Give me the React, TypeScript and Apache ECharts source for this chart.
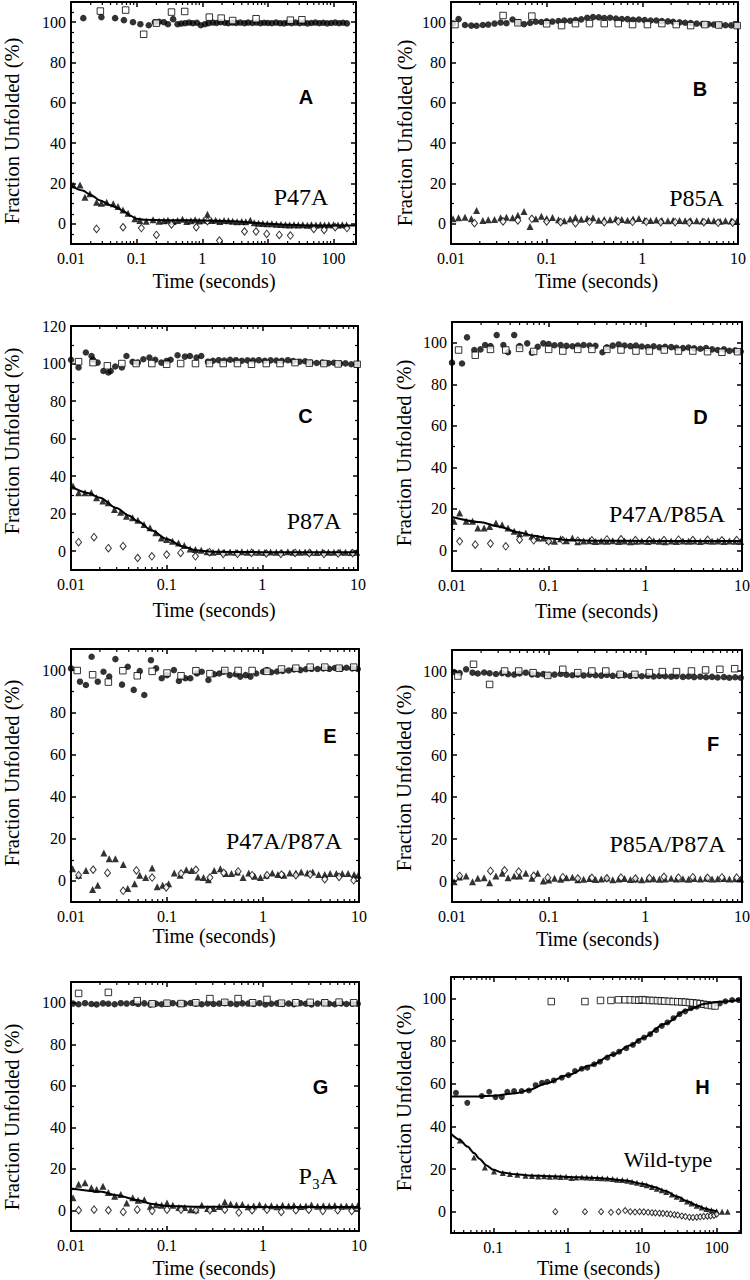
import React, { useEffect, useRef } from "react";
import * as echarts from "echarts";

const SERIF = '"Liberation Serif", "Times New Roman", serif';
const SANS = '"Liberation Sans", Arial, sans-serif';

// shared dense time grid (seconds) used by many panels
const xsDense = [
  0.0105, 0.012, 0.014, 0.0163, 0.0185, 0.0215, 0.0245, 0.0285, 0.033, 0.038,
  0.044, 0.05, 0.058, 0.067, 0.077, 0.088, 0.1, 0.115, 0.133, 0.153,
  0.176, 0.2, 0.23, 0.265, 0.305, 0.35, 0.4, 0.46, 0.53, 0.61,
  0.7, 0.8, 0.92, 1.06, 1.22, 1.4, 1.6, 1.85, 2.1, 2.45,
  2.8, 3.2, 3.7, 4.25, 4.9, 5.6, 6.5, 7.4, 8.5, 9.7,
];

// ---------- Panel A: P47A ----------
const aCircles = [
  [0.0154, 102], [0.029, 102.5], [0.047, 102], [0.064, 101], [0.088, 100], [0.114, 99], [0.153, 98.5], [0.19, 100],
  [0.22, 100.2], [0.26, 100], [0.3, 99], [0.36, 101.5], [0.42, 99], [0.48, 99.3], [0.55, 99.5], [0.63, 99.8],
  [0.72, 99.5], [0.83, 99.7], [0.95, 98.5], [1.1, 99], [1.25, 99.5], [1.45, 99.8], [1.65, 99.6], [1.9, 100],
  [2.2, 99.7], [2.5, 99.5], [2.9, 99.8], [3.3, 99.6], [3.8, 99.8], [4.4, 99.5], [5, 99.8], [5.8, 99.6],
  [6.7, 99.8], [7.7, 99.5], [8.8, 99.7], [10, 99.6], [11.5, 99.5], [13.3, 99.8], [15.3, 99.5], [17.6, 99.4],
  [20, 99.7], [23, 99.5], [26.5, 99.8], [30.5, 99.5], [35, 99.7], [40, 99.4], [46, 99.6], [53, 99.8],
  [61, 99.5], [70, 99.7], [80, 99.4], [92, 99.6], [106, 99.8], [122, 99.5], [140, 99.7], [160, 99.4],
];
const aSquares = [
  [0.028, 105.5], [0.068, 106], [0.128, 94], [0.2, 99.5], [0.34, 105], [0.54, 105.3],
  [1.28, 102.5], [1.94, 102], [2.9, 100.8], [6.6, 101.7], [22, 101], [33, 101.2],
];
const aTriangles = [
  [0.0108, 19.3], [0.0137, 19.3], [0.0163, 13.2], [0.0194, 14.9], [0.0245, 10.7], [0.029, 10.2], [0.035, 10.7],
  [0.044, 9.9], [0.052, 8.6], [0.062, 6.9], [0.074, 5.3], [0.094, 2.5], [0.112, 1.7], [0.14, 1.3], [0.178, 2],
  [0.22, 1.3], [0.26, 1.5], [0.3, 1.8], [0.36, 1.2], [0.42, 1.6], [0.5, 2.3], [0.58, 1.2], [0.67, 1.5],
  [0.78, 2], [0.9, 1.4], [1.05, 1.8], [1.2, 4.8], [1.38, 1.6], [1.6, 1.8], [1.85, 1.2], [2.15, 1.6],
  [2.5, 1.5], [2.9, 1.3], [3.4, 1.0], [4, 1.2], [4.6, 1.0], [5.4, 1.8], [6.2, 0.5], [7.2, 0.3], [8.4, 0.2],
  [9.8, 0], [11.5, 0], [13.5, -0.2], [15.8, -0.3], [18.5, -0.5], [21.5, -0.6], [25, -0.5], [29, -0.6],
  [34, -0.5], [40, -0.7], [46, -0.5], [54, -0.6], [63, -0.5], [73, -0.6], [85, -0.5], [100, -0.5],
  [117, -0.6], [136, -0.5], [158, -0.6],
];
const aDiamonds = [
  [0.0245, -2.5], [0.062, -1.7], [0.118, -2.1], [0.2, -5.5], [0.34, -0.3], [0.81, -1.7], [1.2, 1.3],
  [1.83, -8.3], [4.4, -3.8], [6.6, -3.8], [9.6, -5], [14.9, -5.5], [22, -5.8], [50, -2.5], [72, -3],
  [106, -1.7], [160, -2.1],
];
const aFit = [
  [0.01, 19], [0.015, 16.5], [0.02, 14.3], [0.028, 11.6], [0.04, 9.2], [0.05, 8], [0.065, 6], [0.08, 4],
  [0.1, 2.5], [0.13, 2], [0.3, 1.8], [1, 1.7], [3, 1.3], [6, 0.5], [10, 0], [20, -0.5], [50, -0.8], [220, -0.8],
];

// ---------- Panel B: P85A ----------
const bCirclesY = [
  99.3, 101.5, 98.6, 98.3, 98.2, 98.6, 98.8, 99.3, 99.8, 99.5,
  101.3, 100, 99, 99.6, 100.2, 100.1, 100.4, 100.3, 100.6, 100.8,
  100.7, 101, 101.4, 102.2, 102.5, 102.4, 102, 102.2, 101.8, 101.6,
  101.5, 101.2, 101.3, 101, 100.8, 100.8, 100.5, 100.4, 100.2, 99.9,
  99.7, 99.6, 99.3, 99.1, 99, 98.8, 98.6, 98.5, 98.4, 98.5,
];
const bSquares = [
  [0.011, 98.8], [0.035, 103.3], [0.05, 99.7], [0.07, 103], [0.1, 99.2], [0.143, 98.3], [0.2, 99.3],
  [0.28, 99.3], [0.4, 99.3], [0.56, 99.3], [0.79, 98.8], [1.13, 98.8], [1.6, 99.3], [2.26, 98.8],
  [3.2, 98.3], [4.5, 98.8], [6.3, 98.6], [9.8, 98.3],
];
const bTrianglesY = [
  2.5, 3, 3.3, 2.5, 6.6, 1.7, 2, 2.2, 3, 3.3,
  3, 4.2, 6.1, -1.3, 2.5, 3.7, 2.7, 3.2, 2, 1.5,
  2.4, 3.2, 2.3, 2.6, 3, 1.8, 2.2, 2, 2.5, 2.1,
  1.8, 2.4, 2.6, 1.8, 1.6, 1.9, 1.7, 1.5, 1.8, 1.6,
  1.5, 1.7, 1.5, 1.4, 1.6, 1.5, 1.3, 1.5, 1.4, 1.2,
];
const bDiamonds = [
  [0.0176, 0.3], [0.035, 1.2], [0.05, 1.7], [0.07, 2.5], [0.1, 1.2], [0.14, 0.8], [0.2, 0.3], [0.28, 1],
  [0.4, 0.8], [0.56, 1.2], [0.79, 1], [1.1, 1], [1.56, 0.8], [2.2, 0.8], [3.1, 0.6], [4.4, 0.8],
  [6.2, 0.5], [8.8, 0.6],
];

// ---------- Panel C: P87A ----------
const cCircles = [
  [0.01, 102], [0.012, 97.9], [0.0143, 105.9], [0.0164, 104], [0.017, 102], [0.019, 100.5], [0.0218, 96],
  [0.0246, 95.2], [0.026, 96], [0.029, 98.4], [0.034, 97.9], [0.038, 104], [0.044, 100.9], [0.05, 100.5],
  [0.057, 102.3], [0.066, 103.2], [0.076, 102], [0.088, 100.5], [0.1, 101.4], [0.11, 102], [0.13, 104.4],
  [0.155, 103.7], [0.175, 104], [0.205, 103.2], [0.23, 104], [0.27, 101], [0.305, 101.5], [0.35, 101.8],
  [0.4, 101.6], [0.46, 102], [0.53, 101.8], [0.61, 101.5], [0.7, 101.7], [0.8, 101.6], [0.92, 101.8],
  [1.06, 101.5], [1.22, 101.7], [1.4, 101.6], [1.6, 101.5], [1.85, 101.8], [2.1, 101.3], [2.45, 101],
  [2.8, 101.2], [3.2, 100.5], [3.7, 100.3], [4.25, 100.5], [4.9, 100.2], [5.6, 100.4], [6.5, 100],
  [7.4, 100.1], [8.5, 99.6], [9.7, 99.4],
];
const cSquares = [
  [0.012, 101], [0.017, 100.5], [0.024, 98.8], [0.034, 100], [0.048, 100], [0.07, 100], [0.1, 99.6],
  [0.14, 100], [0.2, 100], [0.28, 100], [0.39, 100], [0.55, 100], [0.77, 99.6], [1.1, 100], [1.53, 100],
  [2.2, 100.5], [3.1, 100.2], [4.4, 100], [6.2, 99.8], [9.8, 99.6],
];
const cTrianglesY = [
  34.7, 31.1, 31.1, 31.1, 28.5, 26.7, 25.8, 22.2, 20.8, 18.7,
  17.8, 16.5, 14.2, 12.5, 9.8, 7.1, 6.2, 5.3, 4.4, 3,
  1.2, 0.9, 0.5, -0.3, -0.5, -0.2, -0.6, -0.4, -0.5, -0.3,
  -0.6, -0.4, -0.5, -0.7, -0.4, -0.5, -0.6, -0.3, -0.5, -0.6,
  -0.4, -0.5, -0.7, -0.4, -0.5, -0.6, -0.4, -0.5, -0.7, -0.5,
];
const cDiamonds = [
  [0.012, 4.8], [0.0174, 7.5], [0.0246, 1.6], [0.035, 2.7], [0.0497, -3.6], [0.07, -2.7], [0.1, -1.8],
  [0.14, -0.9], [0.2, -2.7], [0.28, -0.5], [0.39, -1.4], [0.55, -1.4], [0.77, -0.9], [1.1, -1.2],
  [1.56, -1.4], [2.2, -0.9], [3.1, -1], [4.4, -1.4], [6.2, -1.2], [8.8, -1],
];
const cFit = [
  [0.01, 34.5], [0.015, 31], [0.02, 28.5], [0.03, 23], [0.04, 19], [0.05, 16], [0.07, 11], [0.1, 6.5],
  [0.15, 2.5], [0.2, 0.5], [0.3, -0.3], [1, -0.5], [10, -0.5],
];

// ---------- Panel D: P47A/P85A ----------
const dCircles = [
  [0.01, 90.4], [0.0127, 90], [0.0143, 102.6], [0.017, 96.5], [0.0197, 96.8], [0.022, 98.9], [0.025, 98.4],
  [0.029, 103.7], [0.034, 98.9], [0.038, 95.4], [0.044, 103.7], [0.05, 98.4], [0.06, 99.7], [0.067, 95.2],
  [0.077, 98.1], [0.088, 99.7], [0.1, 99.4], [0.115, 98.8], [0.133, 98.9], [0.153, 98.5], [0.176, 98.3],
  [0.2, 98.6], [0.23, 98.9], [0.265, 98.7], [0.305, 98.5], [0.36, 95.4], [0.4, 97.8], [0.46, 98.6],
  [0.53, 99.2], [0.61, 98.7], [0.7, 98.4], [0.8, 98.6], [0.92, 98.2], [1.06, 97.9], [1.22, 98.3],
  [1.4, 97.8], [1.6, 98.1], [1.85, 97.9], [2.1, 97.6], [2.45, 97.4], [2.8, 97.7], [3.2, 97.3], [3.7, 97.1],
  [4.25, 97.4], [4.9, 96.8], [5.6, 96.5], [6.5, 96.8], [7.4, 96.1], [8.5, 96.3], [9.7, 95.8],
];
const dSquares = [
  [0.0117, 96.5], [0.0174, 94], [0.025, 96.8], [0.036, 96.5], [0.05, 97.3], [0.07, 95.8], [0.1, 96.8],
  [0.14, 96], [0.2, 96.8], [0.28, 96.8], [0.4, 96.8], [0.56, 96.5], [0.8, 96], [1.1, 96], [1.57, 96.5],
  [2.2, 96], [3.1, 96], [4.4, 95.7], [6.2, 95.4], [9, 95.7],
];
const dTrianglesY = [
  14, 18, 14, 14, 10.7, 10.7, 11.5, 13.1, 12.3, 10.7,
  9.1, 7.9, 8.3, 6.7, 5.9, 5.9, 4.8, 4.3, 5.5, 4.6,
  5.9, 4.1, 4.4, 4.6, 4.2, 4.5, 4.3, 4.6, 4.2, 4.4,
  4.1, 4.3, 4.5, 4.2, 4.6, 4.3, 4.1, 4.4, 4.2, 4.5,
  4.3, 4.4, 4.2, 4.6, 4.3, 4.5, 4.2, 4.4, 4.3, 4.2,
];
const dDiamonds = [
  [0.012, 4.3], [0.0174, 2.7], [0.025, 3.2], [0.036, 1.9], [0.05, 5.1], [0.07, 4.8], [0.1, 4.3], [0.14, 4.8],
  [0.2, 4.6], [0.28, 4.8], [0.4, 5.2], [0.56, 5.3], [0.79, 4.9], [1.1, 4.8], [1.56, 4.9], [2.2, 5.1],
  [3.1, 4.9], [4.4, 5], [6.2, 4.8], [8.8, 4.9],
];
const dFit = [
  [0.01, 16], [0.02, 13.5], [0.03, 11.5], [0.05, 8.5], [0.07, 7], [0.1, 5.8], [0.15, 5], [0.3, 4.6],
  [1, 4.5], [10, 4.4],
];

// ---------- Panel E: P47A/P87A ----------
const eCircles = [
  [0.01, 100.8], [0.0124, 94.5], [0.0143, 92.9], [0.0164, 106.3], [0.019, 94.5], [0.0218, 99.2], [0.025, 96.9],
  [0.029, 105.2], [0.034, 93.1], [0.039, 101.6], [0.045, 90.6], [0.052, 99.5], [0.058, 88.2], [0.068, 104.7],
  [0.077, 100.8], [0.088, 96.1], [0.1, 97.6], [0.118, 100], [0.133, 94.8], [0.155, 96.1], [0.175, 96.1],
  [0.205, 98.4], [0.23, 99.2], [0.27, 95.3], [0.31, 98], [0.35, 98.4], [0.39, 99.2], [0.45, 97.6], [0.52, 98],
  [0.58, 96.9], [0.66, 97.6], [0.74, 96.9], [0.85, 98.4], [1, 99.2], [1.1, 100], [1.22, 99], [1.4, 99.3],
  [1.6, 99.6], [1.85, 99.8], [2.1, 100.3], [2.45, 100], [2.8, 100.4], [3.2, 100.6], [3.7, 100.5],
  [4.25, 100.8], [4.9, 100.6], [5.6, 101], [6.5, 100.7], [7.4, 101.1], [8.5, 100.8], [9.7, 100.5],
];
const eSquares = [
  [0.0116, 99.8], [0.0168, 97.8], [0.0245, 94.3], [0.0347, 99.7], [0.049, 97.3], [0.07, 99.4], [0.1, 98.6],
  [0.14, 97.3], [0.2, 99.7], [0.28, 98.3], [0.4, 99.8], [0.55, 99.8], [0.77, 99.8], [1.1, 99.4],
  [1.56, 100.5], [2.2, 100.9], [3.1, 101.4], [4.4, 101.4], [6.2, 100.9], [8.8, 101.4],
];
const eTriangles = [
  [0.0104, 5.8], [0.012, 2.7], [0.0143, 5], [0.0168, -4.1], [0.019, -2], [0.022, 13.2], [0.025, 10.5],
  [0.029, 10.5], [0.035, 7.8], [0.039, -3.6], [0.046, -1.3], [0.052, 2.7], [0.06, 1.6], [0.07, 6.1],
  [0.079, -2.8], [0.09, -2], [0.104, -1.3], [0.119, 3.8], [0.137, 2.7], [0.159, 5.3], [0.18, 5], [0.21, 1.9],
  [0.24, 1.6], [0.27, 0.6], [0.31, 5], [0.36, 5.8], [0.41, 3.5], [0.47, 3.5], [0.54, 4.2], [0.62, 1.6],
  [0.71, 3.8], [0.82, 2.2], [0.94, 1.6], [1.08, 2.7], [1.25, 3.8], [1.43, 3.1], [1.65, 2.7], [1.9, 3.8],
  [2.2, 3.8], [2.5, 4.2], [2.9, 3.8], [3.3, 4.2], [3.8, 3.1], [4.4, 3.1], [5, 3.5], [5.8, 3.5], [6.7, 3.5],
  [7.7, 3.5], [8.9, 3], [9.8, 2.7],
];
const eDiamonds = [
  [0.012, 2.7], [0.017, 5.3], [0.024, 3.8], [0.035, -4.7], [0.048, 5], [0.07, 1.6], [0.098, -3.1], [0.14, 3.5],
  [0.2, 5.3], [0.28, 1.6], [0.39, 3.8], [0.55, 4.5], [0.77, 2.7], [1.1, 2.7], [1.56, 3], [2.2, 2.7],
  [3.1, 3.1], [4.4, 0.8], [6.2, 1.9], [8.8, 0.3],
];

// ---------- Panel F: P85A/P87A ----------
const fCirclesY = [
  99.5, 99, 100.8, 99.2, 98.8, 99.3, 98.9, 98.6, 99, 98.5,
  98.3, 98.8, 99.2, 98.4, 98.2, 98.5, 98.1, 98.3, 98.6, 98.2,
  98, 98.3, 97.9, 98.2, 98, 97.8, 98.1, 97.7, 97.9, 98,
  97.6, 97.8, 97.5, 97.7, 97.4, 97.6, 97.5, 97.3, 97.5, 97.2,
  97.4, 97.1, 97.3, 97, 97.2, 96.9, 97.1, 96.8, 97, 96.8,
];
const fSquares = [
  [0.0115, 97.6], [0.0167, 103.2], [0.0245, 93.6], [0.035, 100], [0.049, 100], [0.069, 99.2], [0.098, 97.9],
  [0.14, 100.8], [0.2, 99.2], [0.28, 100], [0.39, 100], [0.55, 98.4], [0.78, 98.4], [1.1, 99.2], [1.5, 99.7],
  [2.1, 99.7], [3, 100], [4.2, 100.5], [5.9, 100.8], [8.4, 101.1],
];
const fTrianglesY = [
  -0.3, 1.9, 2.4, -0.3, 1.3, 1.6, -0.8, 2.4, 3.7, 1.6,
  2.4, 2.4, 3.7, 1.3, 3.7, 0, 0.5, 1.3, 0.8, 1.5,
  1.8, 0.6, 0.8, 1.2, 0.7, 0.9, 1.4, 0.6, 0.9, 1.2,
  0.7, 1, 0.6, 0.9, 1.1, 0.8, 1, 1.3, 0.9, 1.1,
  0.8, 1.2, 1, 1.3, 0.9, 1.1, 1.2, 0.9, 1.1, 1,
];
const fDiamonds = [
  [0.012, 2.4], [0.025, 4.8], [0.035, 5.1], [0.049, 4.5], [0.07, 2.5], [0.098, 1.6], [0.14, 1.8], [0.2, 1.2],
  [0.28, 1.5], [0.4, 1.3], [0.56, 1.6], [0.79, 1.2], [1.1, 1.4], [1.56, 2], [2.2, 1.6], [3.1, 1.8],
  [4.4, 1.5], [6.2, 1.7], [8.8, 1.6],
];

// ---------- Panel G: P3A ----------
const gCirclesY = [
  99.6, 99.3, 99.8, 99.4, 99.2, 99.7, 99.5, 99.3, 99.8, 99.6,
  99.9, 99.4, 99.7, 99.2, 99.5, 99.3, 99.7, 99.8, 99.4, 99.6,
  99.9, 99.5, 99.3, 99.7, 99.4, 99.6, 99.8, 99.5, 99.3, 99.7,
  99.6, 99.4, 99.8, 99.2, 99.5, 99.7, 99.4, 99.6, 99.3, 99.8,
  99.5, 99.2, 99.6, 99.9, 99.5, 99.3, 99.7, 99.4, 99.6, 99.5,
];
const gSquares = [
  [0.012, 104.5], [0.0245, 105], [0.049, 101], [0.07, 99.5], [0.1, 99.8], [0.14, 99.6], [0.2, 100],
  [0.28, 102], [0.4, 100.2], [0.55, 102], [0.78, 100], [1.1, 101.6], [1.56, 99.8], [2.2, 100],
  [3.1, 100.2], [4.4, 100], [6.2, 100.3], [8.8, 100],
];
const gTrianglesY = [
  6, 12.5, 13.2, 10.8, 10, 11.6, 8.5, 6.8, 7.6, 3.5,
  6, 4.8, 5.1, 1.9, 2.7, 2.4, 3.5, 2.4, 1.3, 1.3,
  0.3, 0.3, 2.4, 0.8, 0.8, 1.8, 4, 3, 2.5, 2.8,
  1.7, 2.1, 2.6, 1.9, 2.2, 1.7, 2.4, 2, 2.3, 1.8,
  2.1, 2.5, 1.9, 2.2, 2, 2.3, 1.9, 2.1, 2, 2.2,
];
const gDiamonds = [
  [0.012, 0], [0.0174, 0.3], [0.0245, 0], [0.035, -0.8], [0.049, 0.3], [0.07, -0.3], [0.1, 0.3], [0.14, 0.3],
  [0.2, 0], [0.28, 0], [0.4, 0.3], [0.56, -1.1], [0.77, 0], [1.1, 0.3], [1.55, -0.8], [2.2, 0], [3, 0.3],
  [4.2, -0.3], [6, 0], [8.4, -0.3],
];
const gFit = [
  [0.01, 10.5], [0.02, 9], [0.03, 7.2], [0.05, 4.8], [0.07, 3], [0.1, 2.1], [0.2, 1.7], [1, 1.6], [10, 1.6],
];

// ---------- Panel H: Wild-type ----------
const hCircles = [
  [0.0315, 55.7], [0.0447, 51], [0.07, 54.2], [0.088, 56.2], [0.107, 53.7], [0.13, 53.7], [0.154, 56.2],
  [0.19, 56.5], [0.24, 56.5], [0.3, 56.8], [0.37, 59.3], [0.45, 60.4], [0.53, 60.9], [0.65, 61.5],
  [0.83, 62.8], [1.02, 64], [1.25, 65.9], [1.54, 67], [1.83, 67.5], [2.26, 69.1], [2.7, 70.3], [3.4, 72.2],
  [4.1, 73.8], [4.9, 75], [6.1, 76.6], [7.5, 78.2], [8.9, 80], [10.6, 81.6], [12.8, 83.2], [15.4, 85.1],
  [18.3, 87.1], [21.8, 88.7], [26.3, 90.7], [31.7, 92.6], [37.8, 93.9], [45, 95.4], [54, 96.1], [65, 97],
  [78, 97.3], [93, 97.3], [110, 97.6], [131, 98.6], [161, 99.2], [197, 99.2],
];
const hSquares = [
  [0.6, 98.5], [1.7, 98.5], [2.75, 99], [3.8, 99], [4.8, 99.3], [5.9, 99.3], [6.9, 99.3], [8, 99.2],
  [9, 99.1], [10, 99.4], [11, 99.2], [12.5, 99], [14, 99], [16, 98.9], [18, 98.8], [20, 98.7], [23, 98.6],
  [26, 98.5], [30, 98.4], [34, 98.3], [38, 98.2], [43, 98], [48, 97.9], [54, 97.7], [60, 97.5], [67, 97.2],
  [75, 96.9], [85, 96.6], [95, 96.4],
];
const hTriangles = [
  [0.0356, 33.4], [0.055, 25.4], [0.077, 20.7], [0.102, 18.8], [0.134, 18.1], [0.167, 17.6], [0.21, 17.3],
  [0.27, 16.8], [0.33, 16.7], [0.4, 16.5], [0.48, 16.6], [0.57, 16.4], [0.68, 16.5], [0.8, 16.3],
  [0.95, 16.4], [1.12, 15.8], [1.3, 16], [1.55, 16.1], [1.8, 16], [2.1, 15.9], [2.5, 15.8], [2.9, 15.7],
  [3.4, 15.5], [4, 15.3], [4.6, 15], [5.4, 14.8], [6.3, 14.5], [7.3, 14], [8.5, 13.5], [10, 13],
  [11.5, 12.4], [13.5, 11.6], [15.7, 10.8], [18.3, 10], [21, 9.2], [25, 8.1], [29, 7], [34, 5.9], [40, 4.8],
  [46, 3.8], [54, 2.8], [63, 2], [73, 1.3], [85, 0.7], [100, 0.2], [118, 0], [140, 0],
];
const hDiamonds = [
  [0.68, 0], [1.7, 0], [2.8, 0], [3.8, -0.3], [4.8, 0], [5.9, 0.5], [6.9, 0], [8, -0.2], [9.2, 0],
  [10.5, -0.1], [12, -0.3], [13.5, -0.5], [15, -0.6], [17, -0.7], [19, -0.8], [21.5, -1], [24, -1.2],
  [27, -1.4], [30, -1.6], [34, -2], [38, -2.3], [43, -2.6], [48, -2.7], [54, -2.6], [60, -2.4], [67, -2.2],
  [75, -2.1], [83, -2], [92, -1.8], [100, -1.2],
];
const hCircleFit = [
  [0.027, 54], [0.05, 54], [0.1, 54.3], [0.2, 55.5], [0.3, 57], [0.5, 60], [1, 64], [2, 68.5], [4, 73.5],
  [7, 78], [10, 81.3], [20, 88], [40, 94.5], [70, 97.5], [100, 98.3], [212, 99.2],
];
const hTriangleFit = [
  [0.027, 36.5], [0.035, 33.8], [0.045, 30.5], [0.055, 27.5], [0.065, 24.8], [0.08, 21.8], [0.1, 19.6],
  [0.13, 18.4], [0.2, 17.5], [0.3, 17], [0.6, 16.6], [1, 16.3], [2, 15.9], [3, 15.6], [6, 14.6],
  [10, 13.1], [15, 11.4], [20, 9.8], [30, 7], [40, 4.9], [55, 2.8], [70, 1.5], [85, 0.7], [100, 0.2],
];

const zip = (xs: number[], ys: number[]) => xs.map((x, i) => [x, ys[i]]);

const panelData = [
  { circles: aCircles, squares: aSquares, triangles: aTriangles, diamonds: aDiamonds, fits: [aFit] },
  { circles: zip(xsDense, bCirclesY), squares: bSquares, triangles: zip(xsDense, bTrianglesY), diamonds: bDiamonds, fits: [] },
  { circles: cCircles, squares: cSquares, triangles: zip(xsDense, cTrianglesY), diamonds: cDiamonds, fits: [cFit] },
  { circles: dCircles, squares: dSquares, triangles: zip(xsDense, dTrianglesY), diamonds: dDiamonds, fits: [dFit] },
  { circles: eCircles, squares: eSquares, triangles: eTriangles, diamonds: eDiamonds, fits: [] },
  { circles: zip(xsDense, fCirclesY), squares: fSquares, triangles: zip(xsDense, fTrianglesY), diamonds: fDiamonds, fits: [] },
  { circles: zip(xsDense, gCirclesY), squares: gSquares, triangles: zip(xsDense, gTrianglesY), diamonds: gDiamonds, fits: [gFit] },
  { circles: hCircles, squares: hSquares, triangles: hTriangles, diamonds: hDiamonds, fits: [hCircleFit, hTriangleFit] },
];

const panelLetters = ["A", "B", "C", "D", "E", "F", "G", "H"];
const panelNames = ["P47A", "P85A", "P87A", "P47A/P85A", "P47A/P87A", "P85A/P87A", "P\u2083A", "Wild-type"];
const xRanges = [[0.01, 220], [0.01, 10], [0.01, 10], [0.01, 10], [0.01, 10], [0.01, 10], [0.01, 10], [0.027, 212]];
const yRanges = [[-10, 110], [-10, 110], [-10, 120], [-10, 110], [-10, 110], [-10, 110], [-10, 110], [-10, 110]];
const yTitle = "Fraction Unfolded (%)";
const xTitle = "Time (seconds)";

// layout (pixel positions)
const layout = [
  { grid: { left: 71, top: 2, width: 285, height: 242 }, yMinor: 4, letter: [306, 97], name: [301, 197], nameSize: 24, yT: [12, 131], xT: [214, 281] },
  { grid: { left: 451, top: 2, width: 287, height: 242 }, yMinor: 2, letter: [700, 88.5], name: [696.5, 197.5], nameSize: 24, yT: [404.5, 133], xT: [596.5, 281] },
  { grid: { left: 71, top: 326, width: 287, height: 244 }, yMinor: 2, letter: [305.5, 416], name: [314, 520.5], nameSize: 24, yT: [12, 441], xT: [214, 610] },
  { grid: { left: 452, top: 322, width: 290, height: 249 }, yMinor: 2, letter: [700.5, 416.5], name: [667, 514], nameSize: 24, yT: [404, 453], xT: [596.5, 611] },
  { grid: { left: 71, top: 649, width: 288, height: 253 }, yMinor: 2, letter: [330, 736], name: [284, 841], nameSize: 24, yT: [12, 773], xT: [214, 936] },
  { grid: { left: 452, top: 650, width: 290, height: 252 }, yMinor: 2, letter: [713, 744], name: [667.5, 844], nameSize: 24, yT: [404, 778], xT: [597.5, 939] },
  { grid: { left: 71, top: 982, width: 288, height: 249 }, yMinor: 2, letter: [320.5, 1087], name: [318, 1176], nameSize: 24, yT: [12, 1117], xT: [214, 1268] },
  { grid: { left: 451, top: 977, width: 290, height: 256 }, yMinor: 2, letter: [702.5, 1087], name: [668, 1159], nameSize: 22, yT: [404, 1098], xT: [598.5, 1268] },
];

const fmtLog = (v: number) => {
  const l = Math.log10(v);
  return Math.abs(l - Math.round(l)) < 1e-6 ? String(+v.toPrecision(3)) : "";
};
const fmtY = (v: number) => (Math.abs(v % 20) < 1e-6 ? String(v) : "");

const minorTicksFor = (min: number, max: number) => {
  const out: number[][] = [];
  for (let d = -3; d <= 3; d++) {
    for (let k = 2; k <= 9; k++) {
      const v = +(k * Math.pow(10, d)).toPrecision(6);
      if (v > min * 1.0001 && v < max * 0.9999) out.push([v, 0]);
    }
  }
  return out;
};

function buildOption() {
  const grids: any[] = [];
  const xAxes: any[] = [];
  const yAxes: any[] = [];
  const series: any[] = [];
  const graphics: any[] = [];

  const axisLine = { show: true, onZero: false, lineStyle: { color: "#000", width: 2 } };
  const tick = { show: true, inside: true, length: 5, lineStyle: { color: "#000", width: 1.5 } };
  const labelBase = { color: "#000", fontFamily: SERIF, fontSize: 16 };

  layout.forEach((L, i) => {
    const [xMin, xMax] = xRanges[i];
    const [yMin, yMax] = yRanges[i];
    grids.push({ ...L.grid, containLabel: false, outerBoundsMode: "none", show: false });
    const xBase = { type: "log", logBase: 10, gridIndex: i, min: xMin, max: xMax, splitLine: { show: false }, axisLine, axisTick: tick };
    xAxes.push({ ...xBase, position: "bottom", axisLabel: { ...labelBase, margin: 6, formatter: fmtLog } });
    xAxes.push({ ...xBase, position: "top", axisLabel: { show: false } });
    const yBase = {
      type: "value", gridIndex: i, min: yMin, max: yMax, minInterval: 20, maxInterval: 20,
      splitLine: { show: false }, axisLine, axisTick: tick,
      minorTick: { show: true, splitNumber: L.yMinor, length: 3, lineStyle: { color: "#000", width: 1.2 } },
    };
    yAxes.push({ ...yBase, position: "left", axisLabel: { ...labelBase, margin: 5, formatter: fmtY } });
    yAxes.push({ ...yBase, position: "right", axisLabel: { show: false } });

    const P = panelData[i];
    const ax = { xAxisIndex: 2 * i, yAxisIndex: 2 * i };
    const small = i === 7;
    series.push({ type: "scatter", ...ax, data: P.circles, symbol: "circle", symbolSize: small ? 6 : 6.5, itemStyle: { color: "#000" }, z: 3, silent: true });
    series.push({ type: "scatter", ...ax, data: P.triangles, symbol: "triangle", symbolSize: small ? 6 : 7, itemStyle: { color: "#000" }, z: 3, silent: true });
    series.push({ type: "scatter", ...ax, data: P.squares, symbol: "rect", symbolSize: 6.5, itemStyle: { color: "#fff", borderColor: "#000", borderWidth: 1 }, z: 4, silent: true });
    series.push({ type: "scatter", ...ax, data: P.diamonds, symbol: "diamond", symbolSize: small ? [5, 6] : [6, 7.5], itemStyle: { color: "#fff", borderColor: "#000", borderWidth: 1 }, z: 4, silent: true });
    P.fits.forEach((f) => {
      series.push({ type: "line", ...ax, data: f, showSymbol: false, symbol: "none", smooth: 0.3, smoothMonotone: "x", lineStyle: { color: "#000", width: 2 }, z: 5, silent: true });
    });
    series.push({
      type: "custom", ...ax, silent: true, z: 6, clip: false,
      data: minorTicksFor(xMin, xMax),
      encode: { x: 0, y: 1 },
      renderItem: (params: any, api: any) => {
        const cs = params.coordSys;
        const x = api.coord([api.value(0), 0])[0];
        const yb = cs.y + cs.height;
        const yt = cs.y;
        return {
          type: "group",
          children: [
            { type: "line", shape: { x1: x, y1: yb, x2: x, y2: yb - 3 }, style: { stroke: "#000", lineWidth: 1.2 } },
            { type: "line", shape: { x1: x, y1: yt, x2: x, y2: yt + 3 }, style: { stroke: "#000", lineWidth: 1.2 } },
          ],
        };
      },
    });

    graphics.push({ type: "text", x: L.letter[0], y: L.letter[1], style: { text: panelLetters[i], fontFamily: SANS, fontWeight: "bold", fontSize: 20, fill: "#000", align: "center", verticalAlign: "middle" } });
    graphics.push({ type: "text", x: L.name[0], y: L.name[1], style: { text: panelNames[i], fontFamily: SERIF, fontSize: L.nameSize, fill: "#000", align: "center", verticalAlign: "middle" } });
    graphics.push({ type: "text", x: L.xT[0], y: L.xT[1], style: { text: xTitle, fontFamily: SERIF, fontSize: 20, fill: "#000", align: "center", verticalAlign: "middle" } });
    graphics.push({ type: "text", x: L.yT[0], y: L.yT[1], rotation: Math.PI / 2, style: { text: yTitle, fontFamily: SERIF, fontSize: 20.5, fill: "#000", align: "center", verticalAlign: "middle" } });
  });

  return {
    animation: false,
    backgroundColor: "#fff",
    grid: grids,
    xAxis: xAxes,
    yAxis: yAxes,
    series,
    graphic: { elements: graphics },
  };
}

export default function App() {
  const ref = useRef<HTMLDivElement>(null);
  useEffect(() => {
    if (!ref.current) return;
    const chart = echarts.init(ref.current, null, { renderer: "svg", width: 750, height: 1280 });
    chart.setOption(buildOption() as any);
    return () => chart.dispose();
  }, []);
  return <div ref={ref} style={{ position: "absolute", left: 0, top: 0, width: 750, height: 1280, background: "#fff" }} />;
}
